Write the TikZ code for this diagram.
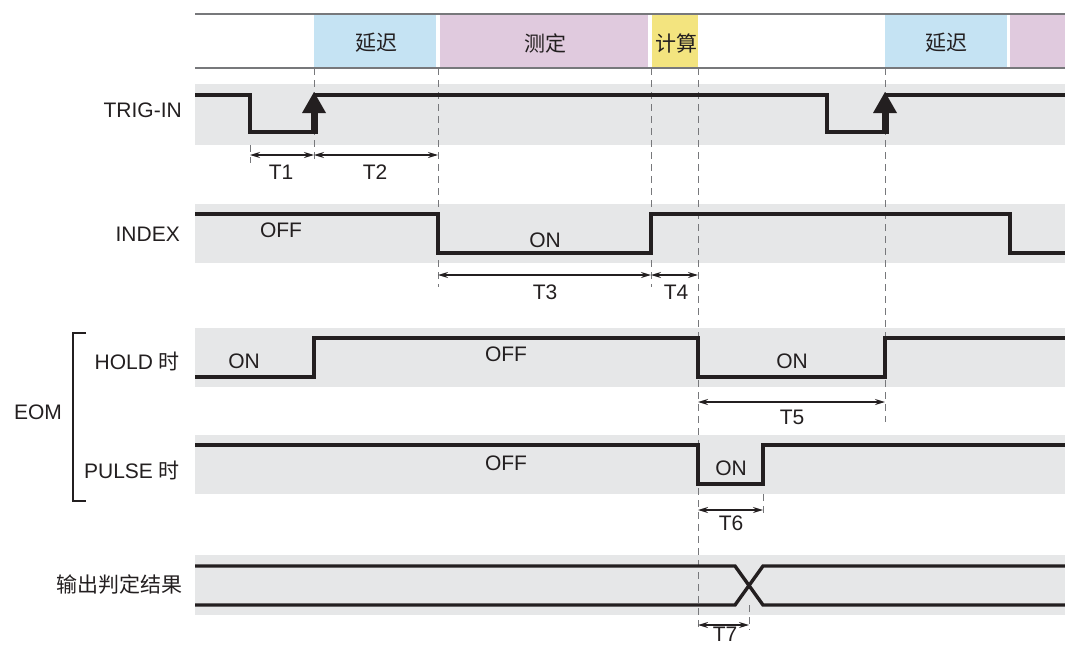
\documentclass[tikz,border=0pt]{standalone}
\usepackage{fontspec}
\setmainfont{Liberation Sans}
\newfontfamily\cjk{Noto Sans CJK SC}
\usetikzlibrary{arrows.meta}
\definecolor{bandgray}{HTML}{E6E7E8}
\definecolor{hblue}{HTML}{C5E3F3}
\definecolor{hpurple}{HTML}{E0CADE}
\definecolor{hyellow}{HTML}{F3E47F}
\definecolor{txt}{HTML}{231F20}
\definecolor{hline}{HTML}{77787B}
\tikzset{
  band/.style={fill=bandgray, draw=none},
  sig/.style={line width=3.4pt, draw=txt, line join=miter},
  guide/.style={draw=hline, line width=1pt, dash pattern=on 7pt off 5pt},
  dim/.style={line width=1.4pt, draw=txt, {Stealth[length=10pt,width=6pt]}-{Stealth[length=10pt,width=6pt]}},
  lbl/.style={font=\fontsize{21}{23}\selectfont, text=txt, inner sep=0pt},
  hdr/.style={draw=hline, line width=2pt},
}
\begin{document}
\begin{tikzpicture}[x=1pt,y=-1pt]
\useasboundingbox (0,0) rectangle (1065,645);
% header blocks
\fill[hblue] (314,14) rectangle (436,68);
\fill[hpurple] (440,14) rectangle (648,68);
\fill[hyellow] (652,14) rectangle (698,68);
\fill[hblue] (885,14) rectangle (1007,68);
\fill[hpurple] (1010,14) rectangle (1065,68);
\draw[hdr] (195,14) -- (1065,14);
\draw[hdr] (195,68) -- (1065,68);
\node[lbl] (h1) at (376,43) {\cjk 延迟};
\node[lbl] (h2) at (545,43) {\cjk 测定};
\node[lbl] (h3) at (676,43) {\cjk 计算};
\node[lbl] (h4) at (946,43) {\cjk 延迟};
% bands
\fill[band] (195,84) rectangle (1065,145);
\fill[band] (195,204) rectangle (1065,263);
\fill[band] (195,328) rectangle (1065,387);
\fill[band] (195,435) rectangle (1065,494);
\fill[band] (195,555) rectangle (1065,615);
% guide coordinates
\coordinate (g1a) at (250,145); \coordinate (g1b) at (250,163);
\coordinate (g2a) at (314,68);  \coordinate (g2b) at (314,163);
\coordinate (g3a) at (438,68);  \coordinate (g3b) at (438,287);
\coordinate (g4a) at (651,68);  \coordinate (g4b) at (651,287);
\coordinate (g5a) at (698,68);  \coordinate (g5b) at (698,630);
\coordinate (g6a) at (885,68);  \coordinate (g6b) at (885,422);
\coordinate (g7a) at (763,494); \coordinate (g7b) at (763,516);
\coordinate (g8a) at (749,605); \coordinate (g8b) at (749,630);
\foreach \g in {1,...,8} {\draw[guide] (g\g a) -- (g\g b);}
% TRIG-IN
\node[lbl, anchor=east] (trig) at (182,110) {TRIG-IN};
\draw[sig] (195,95) -- (250,95) -- (250,132) -- (314,132);
\draw[sig] (314,95) -- (827,95) -- (827,132) -- (885,132);
\draw[sig] (885,95) -- (1065,95);
\foreach \ax in {314,885} {
  \fill[txt] (\ax-3.5,133.7) rectangle (\ax+3.5,110);
  \fill[txt] (\ax-12,113) -- (\ax+12,113) -- (\ax,92) -- cycle;
}
\draw[dim] (250,155) -- (314,155);
\draw[dim] (314,155) -- (438,155);
\node[lbl] (t1) at (281,172) {T1};
\node[lbl] (t2) at (375,172) {T2};
% INDEX
\node[lbl, anchor=east] (index) at (180,234) {INDEX};
\draw[sig] (195,214) -- (438,214) -- (438,253) -- (651,253) -- (651,214) -- (1010,214) -- (1010,253) -- (1065,253);
\node[lbl] (ioff) at (281,230) {OFF};
\node[lbl] (ion) at (545,240) {ON};
\draw[dim] (438,275) -- (651,275);
\draw[dim] (651,275) -- (698,275);
\node[lbl] (t3) at (545,292) {T3};
\node[lbl] (t4) at (676,292) {T4};
% HOLD
\node[lbl, anchor=east] (hold) at (180,361) {HOLD \cjk 时};
\draw[sig] (195,377) -- (314,377) -- (314,338) -- (698,338) -- (698,377) -- (885,377) -- (885,338) -- (1065,338);
\node[lbl] (hon1) at (244,361) {ON};
\node[lbl] (hoff) at (506,354) {OFF};
\node[lbl] (hon2) at (792,361) {ON};
\draw[dim] (698,402) -- (885,402);
\node[lbl] (t5) at (792,417) {T5};
% EOM
\node[lbl] (eom) at (38,412) {EOM};
\draw[line width=2pt, draw=txt] (86,333) -- (73,333) -- (73,501) -- (86,501);
% PULSE
\node[lbl, anchor=east] (pulse) at (180,470) {PULSE \cjk 时};
\draw[sig] (195,445) -- (698,445) -- (698,484) -- (763,484) -- (763,445) -- (1065,445);
\node[lbl] (poff) at (506,463) {OFF};
\node[lbl] (pon) at (731,468) {ON};
\draw[dim] (698,510) -- (763,510);
\node[lbl] (t6) at (731,523) {T6};
% output
\node[lbl, anchor=east] (out) at (183,585) {\cjk 输出判定结果};
\draw[sig] (195,566) -- (735,566) -- (763,605) -- (1065,605);
\draw[sig] (195,605) -- (735,605) -- (763,566) -- (1065,566);
\draw[dim] (698,625) -- (749,625);
\node[lbl] (t7) at (725,634) {T7};
\end{tikzpicture}
\end{document}
